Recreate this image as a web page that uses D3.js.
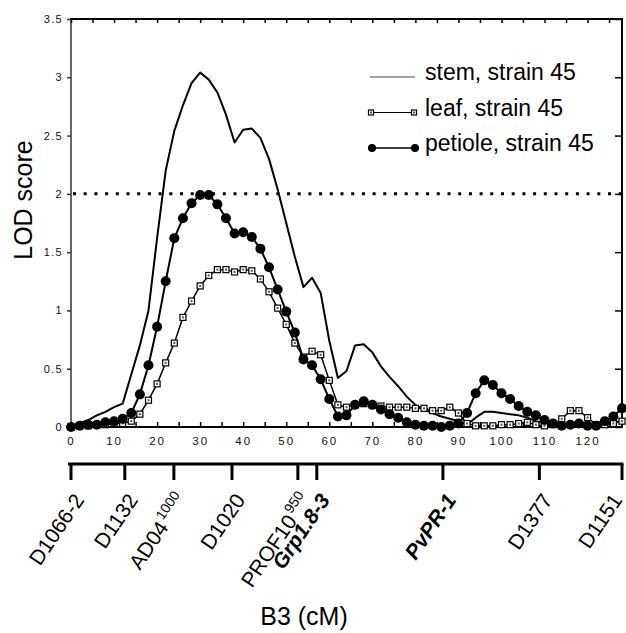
<!DOCTYPE html>
<html>
<head>
<meta charset="utf-8" />
<title>LOD score, B3</title>
<script src="https://d3js.org/d3.v7.min.js"></script>
<style>
    html, body { margin: 0; padding: 0; background: #fff; }
    svg { display: block; font-family: Arial, "Liberation Sans", sans-serif; }
</style>
</head>
<body>
<div class="chart"></div>
<script>
    // map positions (cM) where the LOD was computed
    var cM = [0, 2, 4, 6, 8, 10, 12, 14, 16, 18, 20, 22, 24, 26, 28, 30, 32, 34, 36, 38,
              40, 42, 44, 46, 48, 50, 52, 54, 56, 58, 60, 62, 64, 66, 68, 70, 72, 74, 76, 78,
              80, 82, 84, 86, 88, 90, 92, 94, 96, 98, 100, 102, 104, 106, 108, 110, 112, 114, 116, 118,
              120, 122, 124, 126, 128];

    var stemLOD = [0, 0.03, 0.06, 0.1, 0.13, 0.17, 0.2, 0.45, 0.7, 1.0, 1.62, 2.2, 2.54, 2.76, 2.95, 3.04, 2.98, 2.87, 2.68, 2.44,
                   2.55, 2.56, 2.48, 2.3, 2.04, 1.75, 1.46, 1.2, 1.28, 1.15, 0.74, 0.42, 0.48, 0.7, 0.71, 0.64, 0.52, 0.43, 0.35, 0.26,
                   0.19, 0.15, 0.12, 0.09, 0.07, 0.05, 0.02, 0.08, 0.13, 0.13, 0.12, 0.11, 0.1, 0.08, 0.05, 0.03, 0.02, 0.02, 0.02, 0.02,
                   0.02, 0.02, 0.03, 0.04, 0.05];

    var leafLOD = [0, 0.01, 0.01, 0.02, 0.02, 0.03, 0.03, 0.05, 0.11, 0.23, 0.37, 0.55, 0.72, 0.94, 1.08, 1.21, 1.3, 1.35, 1.35, 1.33,
                   1.35, 1.34, 1.27, 1.16, 1.02, 0.88, 0.72, 0.6, 0.65, 0.62, 0.4, 0.19, 0.17, 0.19, 0.2, 0.19, 0.18, 0.17, 0.17, 0.17,
                   0.16, 0.16, 0.14, 0.14, 0.17, 0.12, 0.03, 0.01, 0.01, 0.01, 0.02, 0.02, 0.03, 0.04, 0.02, 0.01, 0.02, 0.07, 0.14, 0.14,
                   0.08, 0.02, 0.02, 0.03, 0.05];

    var petioleLOD = [0, 0.01, 0.02, 0.02, 0.04, 0.05, 0.07, 0.12, 0.28, 0.53, 0.86, 1.25, 1.62, 1.79, 1.92, 1.99, 1.99, 1.91, 1.79, 1.66,
                      1.67, 1.63, 1.53, 1.37, 1.18, 0.99, 0.81, 0.58, 0.53, 0.41, 0.24, 0.09, 0.1, 0.19, 0.22, 0.19, 0.15, 0.11, 0.08, 0.04,
                      0.02, 0.01, 0.01, 0, 0.01, 0.03, 0.12, 0.29, 0.4, 0.36, 0.29, 0.24, 0.18, 0.13, 0.1, 0.06, 0.03, 0.01, 0.02, 0.03,
                      0.01, 0.01, 0.05, 0.09, 0.16];

    var seriesNames = ["stem, strain 45", "leaf, strain 45", "petiole, strain 45"];

    var yTicks = [0, 0.5, 1, 1.5, 2, 2.5, 3, 3.5];
    var xTicks = [0, 10, 20, 30, 40, 50, 60, 70, 80, 90, 100, 110, 120];
    var xMinorTicks = [0, 5, 10, 15, 20, 25, 30, 35, 40, 45, 50, 55, 60, 65, 70, 75, 80, 85, 90, 95,
                       100, 105, 110, 115, 120, 125];
    var threshold = 2;

    // linkage map markers on B3
    var markerNames = ["D1066-2", "D1132", "AD04", "D1020", "PROF10", "Grp1.8-3", "PvPR-1", "D1377", "D1151"];
    var markerPos = [0, 12.5, 23.9, 37.4, 52.7, 57.1, 86.4, 108.8, 128];
    var markerSup = ["", "", "1000", "", "950", "", "", "", ""];
    var geneMarkers = ["Grp1.8-3", "PvPR-1"];

    var width = 626, height = 633;

    var svg = d3.select(".chart").append("svg")
        .attr("width", width)
        .attr("height", height);

    svg.append("rect").attr("width", width).attr("height", height).attr("fill", "#fff");

    var x = d3.scaleLinear().domain([0, 128]).range([71, 622]);
    var y = d3.scaleLinear().domain([0, 3.5]).range([427, 19]);

    // frame
    svg.append("line").attr("x1", 71).attr("x2", 71).attr("y1", y(3.5)).attr("y2", y(0))
        .attr("stroke", "#666").attr("stroke-width", 2);
    svg.append("line").attr("x1", 70).attr("x2", 623).attr("y1", y(3.5)).attr("y2", y(3.5))
        .attr("stroke", "#000").attr("stroke-width", 2);
    svg.append("line").attr("x1", 622).attr("x2", 622).attr("y1", y(3.5)).attr("y2", y(0))
        .attr("stroke", "#000").attr("stroke-width", 2);
    svg.append("line").attr("x1", 70).attr("x2", 623).attr("y1", y(0)).attr("y2", y(0))
        .attr("stroke", "#000").attr("stroke-width", 2);

    // y axis (left, outward ticks)
    var yAxis = svg.append("g")
        .attr("transform", "translate(71,0)")
        .call(d3.axisLeft(y).tickValues(yTicks).tickSize(4).tickPadding(4)
            .tickFormat(function(d) { return String(d); }));
    yAxis.select(".domain").remove();
    yAxis.selectAll(".tick line").attr("stroke", "#333").attr("stroke-width", 1.5);
    yAxis.selectAll("text").attr("font-size", 11).attr("letter-spacing", 1.3)
        .attr("font-family", "Arial, 'Liberation Sans', sans-serif").attr("fill", "#111");

    // right axis, inward ticks
    var yRight = svg.append("g")
        .attr("transform", "translate(622,0)")
        .call(d3.axisLeft(y).tickValues(yTicks).tickSize(7).tickFormat(""));
    yRight.select(".domain").remove();
    yRight.selectAll(".tick line").attr("stroke", "#000").attr("stroke-width", 1.5);

    // top axis, inward ticks
    var xTop = svg.append("g")
        .attr("transform", "translate(0," + y(3.5) + ")")
        .call(d3.axisBottom(x).tickValues(xMinorTicks).tickSize(4).tickFormat(""));
    xTop.select(".domain").remove();
    xTop.selectAll(".tick line").attr("stroke", "#000").attr("stroke-width", 1.5);

    // bottom axis, inward ticks
    var xBot = svg.append("g")
        .attr("transform", "translate(0," + y(0) + ")")
        .call(d3.axisTop(x).tickValues(xMinorTicks).tickSize(5).tickFormat(""));
    xBot.select(".domain").remove();
    xBot.selectAll(".tick line").attr("stroke", "#000").attr("stroke-width", 1.5);

    var xLab = svg.append("g")
        .attr("transform", "translate(0," + y(0) + ")")
        .call(d3.axisBottom(x).tickValues(xTicks).tickSize(0).tickPadding(10)
            .tickFormat(function(d) { return String(d); }));
    xLab.select(".domain").remove();
    xLab.selectAll("text").attr("font-size", 11.5).attr("letter-spacing", 2)
        .attr("font-family", "Arial, 'Liberation Sans', sans-serif").attr("fill", "#111");

    // threshold line
    svg.append("line")
        .attr("x1", 73).attr("x2", 622)
        .attr("y1", y(threshold)).attr("y2", y(threshold))
        .attr("stroke", "#000").attr("stroke-width", 3)
        .attr("stroke-dasharray", "3,7.7");

    var line = d3.line()
        .x(function(d) { return x(d[0]); })
        .y(function(d) { return y(d[1]); });

    var stem = d3.zip(cM, stemLOD);
    var leaf = d3.zip(cM, leafLOD);
    var petiole = d3.zip(cM, petioleLOD);

    svg.append("path").datum(stem)
        .attr("d", line).attr("fill", "none")
        .attr("stroke", "#000").attr("stroke-width", 2).attr("stroke-linejoin", "round");

    svg.append("path").datum(leaf)
        .attr("d", line).attr("fill", "none")
        .attr("stroke", "#000").attr("stroke-width", 1.5);

    function drawSquare(sel, size) {
        sel.append("rect")
            .attr("x", -size / 2).attr("y", -size / 2)
            .attr("width", size).attr("height", size)
            .attr("fill", "#fff").attr("stroke", "#000").attr("stroke-width", 1.2);
        sel.append("rect")
            .attr("x", -1).attr("y", -1).attr("width", 2).attr("height", 2)
            .attr("fill", "#555");
    }

    svg.append("g").selectAll("g").data(leaf).join("g")
        .attr("transform", function(d) { return "translate(" + x(d[0]) + "," + y(d[1]) + ")"; })
        .each(function() { drawSquare(d3.select(this), 6); });

    svg.append("path").datum(petiole)
        .attr("d", line).attr("fill", "none")
        .attr("stroke", "#000").attr("stroke-width", 2);

    svg.append("g").selectAll("circle").data(petiole).join("circle")
        .attr("cx", function(d) { return x(d[0]); })
        .attr("cy", function(d) { return y(d[1]); })
        .attr("r", 5).attr("fill", "#000");

    // legend
    var legend = svg.append("g");
    var legY = [80, 115.5, 151];
    seriesNames.forEach(function(name, i) {
        var g = legend.append("g").attr("transform", "translate(0," + legY[i] + ")");
        g.append("line").attr("x1", 370).attr("x2", 415).attr("y1", -3).attr("y2", -3)
            .attr("stroke", i === 0 ? "#444" : "#000").attr("stroke-width", i === 2 ? 1.5 : 1);
        if (i === 1) {
            [371, 414].forEach(function(px) {
                drawSquare(g.append("g").attr("transform", "translate(" + px + ",-3)"), 5);
            });
        }
        if (i === 2) {
            [372, 415].forEach(function(px) {
                g.append("circle").attr("cx", px).attr("cy", -3).attr("r", 4).attr("fill", "#000");
            });
        }
        g.append("text").attr("x", 425).attr("y", 0)
            .attr("font-size", 23).attr("fill", "#000").text(name);
    });

    // axis titles
    svg.append("text")
        .attr("transform", "translate(32,200) rotate(-90)")
        .attr("text-anchor", "middle").attr("font-size", 25).text("LOD score");

    svg.append("text")
        .attr("x", 304).attr("y", 625)
        .attr("text-anchor", "middle").attr("font-size", 25).text("B3 (cM)");

    // marker map
    var mapY = 464;
    svg.append("line").attr("x1", 68).attr("x2", 623.5).attr("y1", mapY).attr("y2", mapY)
        .attr("stroke", "#000").attr("stroke-width", 3);

    markerNames.forEach(function(name, i) {
        var px = x(markerPos[i]);
        svg.append("line").attr("x1", px).attr("x2", px).attr("y1", mapY).attr("y2", 480)
            .attr("stroke", "#000").attr("stroke-width", 3);
        var isGene = geneMarkers.indexOf(name) >= 0;
        var ax = Math.min(px + 14, 623);
        var t = svg.append("text")
            .attr("transform", "translate(" + ax + ",500) rotate(-56)")
            .attr("text-anchor", "end")
            .attr("font-size", 21)
            .attr("font-weight", isGene ? "bold" : "normal")
            .attr("font-style", isGene ? "italic" : "normal");
        t.append("tspan").text(name);
        if (markerSup[i]) {
            t.append("tspan").attr("dx", 2).attr("dy", -9).attr("font-size", 14).text(markerSup[i]);
        }
    });
</script>
</body>
</html>
